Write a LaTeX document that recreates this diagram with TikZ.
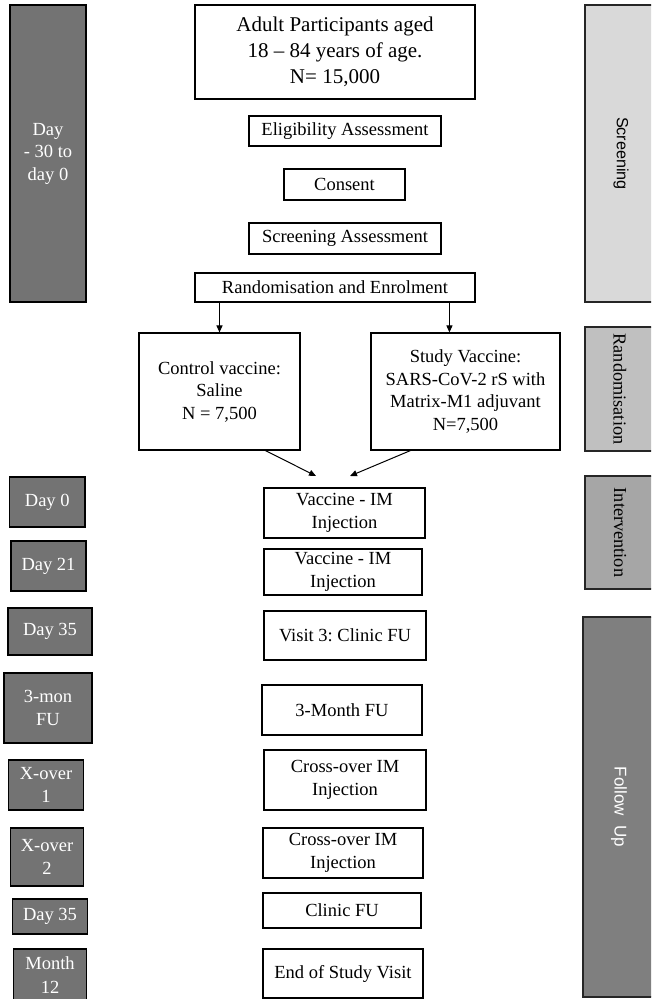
\documentclass[tikz,border=0pt]{standalone}
\usepackage{fontspec}
\setmainfont{Liberation Serif}
\setsansfont{Liberation Sans}
\usetikzlibrary{arrows.meta}
\definecolor{leftgray}{RGB}{115,115,115}
\definecolor{scrgray}{RGB}{217,217,217}
\definecolor{randgray}{RGB}{192,192,192}
\definecolor{intgray}{RGB}{166,166,166}
\definecolor{fugray}{RGB}{127,127,127}
\frenchspacing
\begin{document}
\begin{tikzpicture}[x=1pt,y=-1pt,
  box/.style={draw=black,line width=1.1pt,fill=white,align=center,inner sep=0pt,font=\fontsize{18.5}{22.5}\selectfont},
  dbox/.style={box,fill=leftgray,text=white},
  side/.style={draw=black!85,line width=1.1pt,inner sep=0pt,minimum width=80},
  sidetext/.style={rotate=-90,inner sep=0pt},
  arr/.style={line width=1pt,-{Triangle[length=7pt,width=6pt]}}]
\useasboundingbox (0,0) rectangle (651,999);
\clip (0,0) rectangle (651,999);

% left time boxes
\node[dbox,minimum width=76,minimum height=297] (l1) at (48,153.5) {Day\\- 30 to\\day 0};
\node[dbox,minimum width=75.5,minimum height=50] (l2) at (47.25,502) {Day 0};
\node[dbox,minimum width=75,minimum height=50] (l3) at (48.5,566) {Day 21};
\node[dbox,minimum width=84,minimum height=47] (l4) at (50,631.5) {Day 35};
\node[dbox,minimum width=88,minimum height=70] (l5) at (48,708) {3-mon\\FU};
\node[dbox,minimum width=75,minimum height=50] (l6) at (46,785) {X-over\\1};
\node[dbox,minimum width=72.5,minimum height=58] (l7) at (47,857) {X-over\\2};
\node[dbox,minimum width=75,minimum height=35] (l8) at (50,916.5) {Day 35};
\node[dbox,minimum width=73,minimum height=58,text depth=0pt] (l9) at (50,978) {};
\node[text=white,align=center,inner sep=0pt,font=\fontsize{18.5}{24}\selectfont] (l9t) at (50,975) {Month\\12};

% centre boxes
\node[box,minimum width=280,minimum height=94,font=\fontsize{21}{26}\selectfont] (top) at (335,52) {Adult Participants aged\\18 -- 84 years of age.\\N= 15,000};
\node[box,minimum width=192,minimum height=30] (elig) at (345,131) {Eligibility Assessment};
\node[box,minimum width=121,minimum height=31] (cons) at (344.5,184.5) {Consent};
\node[box,minimum width=192,minimum height=31] (scra) at (345,238.5) {Screening Assessment};
\node[box,minimum width=280,minimum height=29] (rand) at (335,287.5) {Randomisation and Enrolment};
\node[box,minimum width=161,minimum height=117] (ctrl) at (219.5,391.5) {Control vaccine:\\Saline\\N = 7,500};
\node[box,minimum width=189,minimum height=117] (study) at (465.5,391.5) {Study Vaccine:\\SARS-CoV-2 rS with\\Matrix-M1 adjuvant\\N=7,500};
\node[box,minimum width=161,minimum height=50] (vac1) at (344.5,513) {Vaccine - IM\\Injection};
\node[box,minimum width=158,minimum height=46] (vac2) at (343,572) {Vaccine - IM\\Injection};
\node[box,minimum width=162,minimum height=49] (v3) at (345,635.5) {Visit 3: Clinic FU};
\node[box,minimum width=160,minimum height=50] (m3) at (342,710) {3-Month FU};
\node[box,minimum width=162,minimum height=60] (x1) at (345,780) {Cross-over IM\\Injection};
\node[box,minimum width=160,minimum height=50] (x2) at (343,853) {Cross-over IM\\Injection};
\node[box,minimum width=158,minimum height=35] (clin) at (342,910.5) {Clinic FU};
\node[box,minimum width=160,minimum height=49] (eos) at (343,973.5) {End of Study Visit};

% right phase boxes
\node[side,fill=scrgray,minimum height=297] (pscr) at (625,153.5) {};
\node[side,fill=randgray,minimum height=124] (prand) at (625,389) {};
\node[side,fill=intgray,minimum height=113] (pint) at (625,532.5) {};
\node[side,fill=fugray,minimum height=380,minimum width=84] (pfu) at (625,807) {};
\node[sidetext,font=\sffamily\fontsize{16.2}{18}\selectfont] (tscr) at (621,153.5) {Screening};
\node[sidetext,font=\fontsize{18.3}{20}\selectfont] (trand) at (620,389) {Randomisation};
\node[sidetext,font=\fontsize{18.3}{20}\selectfont] (tint) at (620,532.5) {Intervention};
\node[sidetext,font=\sffamily\fontsize{17}{19}\selectfont,text=white] (tfu) at (619,807) {Follow\ \ Up};

% arrows
\coordinate (sn) at ([xshift=79]study.north west);
\draw[arr] (rand.south -| ctrl.north) -- (ctrl.north);
\draw[arr] (rand.south -| sn) -- (sn);
\coordinate (j1) at (316,476);
\coordinate (j2) at (350,476);
\draw[arr] ([xshift=127]ctrl.south west) -- (j1);
\draw[arr] ([xshift=40]study.south west) -- (j2);
\end{tikzpicture}
\end{document}
